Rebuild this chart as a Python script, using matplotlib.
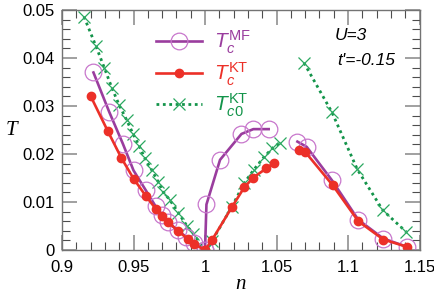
import matplotlib
matplotlib.use('Agg')
import matplotlib.pyplot as plt
from matplotlib.ticker import MultipleLocator
from matplotlib.lines import Line2D

plt.rcParams['font.family'] = ['Liberation Sans', 'DejaVu Sans']
plt.rcParams['mathtext.fontset'] = 'custom'
plt.rcParams['mathtext.rm'] = 'Liberation Sans'
plt.rcParams['mathtext.it'] = 'Liberation Sans:italic'

## data
# mean-field Tc
n_mf_l = [0.922, 0.933, 0.9425, 0.950, 0.9585, 0.9655, 0.970, 0.974, 0.981, 0.987, 0.992, 1.000]
t_mf_l = [0.0370, 0.0288, 0.0222, 0.0166, 0.0125, 0.0091, 0.0074, 0.0058, 0.0041, 0.0027, 0.0015, 0.0]
n_mf_m = [1.000, 1.001, 1.0105, 1.0255, 1.0338, 1.0445]
t_mf_m = [0.0, 0.0095, 0.0188, 0.0242, 0.0252, 0.0252]
n_mf_r = [1.0646, 1.0711, 1.0886, 1.1072, 1.1247, 1.1410]
t_mf_r = [0.0226, 0.0215, 0.0146, 0.0063, 0.0024, 0.0007]

# KT Tc
n_kt_l = [0.920, 0.932, 0.9415, 0.950, 0.9588, 0.9658, 0.970, 0.974, 0.981, 0.988, 0.992, 1.000]
t_kt_l = [0.0321, 0.0248, 0.0192, 0.0149, 0.0112, 0.0085, 0.0071, 0.0059, 0.0040, 0.0023, 0.0013, 0.0]
n_kt_m = [1.000, 1.0047, 1.0187, 1.0275, 1.0338, 1.0427, 1.0483]
t_kt_m = [0.0, 0.0020, 0.0089, 0.0131, 0.0151, 0.0170, 0.0182]
n_kt_r = [1.0659, 1.0699, 1.0893, 1.1072, 1.1247, 1.1410]
t_kt_r = [0.0208, 0.0205, 0.0135, 0.0060, 0.0022, 0.0007]

# KT Tc0
n_kt0_l = [0.9154, 0.9236, 0.9297, 0.935, 0.940, 0.9452, 0.9497, 0.954, 0.958, 0.9627,
           0.9673, 0.9708, 0.9755, 0.9813, 0.9872, 0.9918, 1.000]
t_kt0_l = [0.0486, 0.0426, 0.0379, 0.0337, 0.0302, 0.0271, 0.0242, 0.0217, 0.0191, 0.0167,
           0.0142, 0.0121, 0.0104, 0.0078, 0.0051, 0.0034, 0.0]
n_kt0_m = [1.000, 1.0047, 1.0187, 1.0275, 1.034, 1.041, 1.047, 1.0525]
t_kt0_m = [0.0, 0.0018, 0.0090, 0.0140, 0.0167, 0.0193, 0.0212, 0.0224]
n_kt0_r = [1.0692, 1.0886, 1.1065, 1.1243, 1.1406]
t_kt0_r = [0.0390, 0.0288, 0.0168, 0.0083, 0.0038]

xticks = [0.9, 0.95, 1.0, 1.05, 1.1, 1.15]
xticklabels = ['0.9', '0.95', '1', '1.05', '1.1', '1.15']
yticks = [0, 0.01, 0.02, 0.03, 0.04, 0.05]
yticklabels = ['0', '0.01', '0.02', '0.03', '0.04', '0.05']

purple = '#9a3d9e'
purple_m = '#c877cc'
red = '#ec3028'
green = '#13944a'

fig = plt.figure(figsize=(4.35, 2.97), dpi=100)
ax = fig.add_axes([0.1425, 0.158, 0.822, 0.808])

mf = dict(color=purple, lw=1.9, marker='o', ms=12, mfc='none', mec=purple_m, mew=0.9)
kt = dict(color=red, lw=1.9, marker='o', ms=6, mec=red)
kt0 = dict(color=green, lw=2.0, ls=(0, (1, 1.3)), marker='x', ms=8, mew=0.9, mec='#2aa860')

for nn, tt in [(n_kt0_l, t_kt0_l), (n_kt0_m, t_kt0_m), (n_kt0_r, t_kt0_r)]:
    ax.plot(nn, tt, **kt0)
for nn, tt in [(n_mf_l, t_mf_l), (n_mf_m, t_mf_m), (n_mf_r, t_mf_r)]:
    ax.plot(nn, tt, **mf)
for nn, tt in [(n_kt_l, t_kt_l), (n_kt_m, t_kt_m), (n_kt_r, t_kt_r)]:
    ax.plot(nn, tt, **kt)

ax.set_xlim(0.9, 1.15)
ax.set_ylim(0, 0.05)
ax.set_xticks(xticks)
ax.set_xticklabels(xticklabels)
ax.set_yticks(yticks)
ax.set_yticklabels(yticklabels)
ax.xaxis.set_minor_locator(MultipleLocator(0.01))
ax.yaxis.set_minor_locator(MultipleLocator(0.002))
ax.tick_params(which='both', direction='in', top=True, right=True, labelsize=12)
ax.tick_params(axis='x', pad=7)
ax.tick_params(axis='y', pad=5)
ax.tick_params(which='major', length=11, width=1.3, color='0.6')
ax.tick_params(which='minor', length=6, width=0.8, color='0.3')
for s in ax.spines.values():
    s.set_color('0.45')
    s.set_linewidth(1.0)

ax.set_xlabel('n', fontsize=15, family='Liberation Serif', style='italic', labelpad=0)
ax.set_ylabel('T', fontsize=15, family='Liberation Serif', style='italic',
              rotation=0, labelpad=8, va='center')

handles = [Line2D([], [], **mf), Line2D([], [], **kt), Line2D([], [], **kt0)]
labels = [r'$T_c^{\rm MF}$', r'$T_c^{\rm KT}$', r'$T_{c0}^{\rm KT}$']
leg = ax.legend(handles, labels, loc='upper left', bbox_to_anchor=(0.235, 0.965),
                frameon=False, fontsize=15, handlelength=2.2, handletextpad=0.55,
                labelspacing=0.2, borderpad=0, numpoints=1)
for txt, c in zip(leg.get_texts(), [purple, red, green]):
    txt.set_color(c)

ax.text(0.764, 0.896, 'U=3', transform=ax.transAxes, fontsize=12.5, style='italic', va='center')
ax.text(0.77, 0.79, "t'=-0.15", transform=ax.transAxes, fontsize=12.5, style='italic', va='center')

fig.savefig('out.png', dpi=100)
